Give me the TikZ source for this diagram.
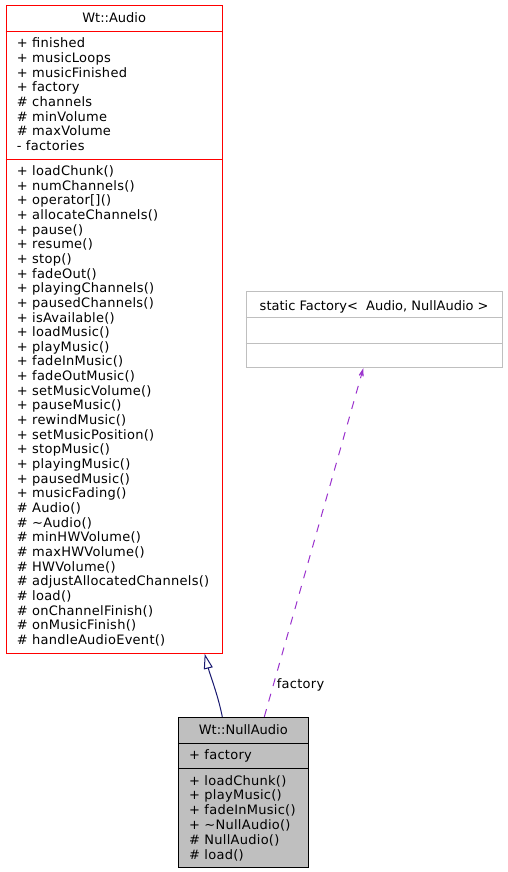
\documentclass[tikz,border=0pt]{standalone}
\usepackage{fontspec}
\setmainfont{DejaVu Sans}
\newfontfamily\memfont[LetterSpace=2]{DejaVu Sans}
\usetikzlibrary{arrows.meta}
\definecolor{navyline}{HTML}{191970}
\definecolor{orchid}{HTML}{9A32CD}
\definecolor{boxgrey}{HTML}{BFBFBF}
\definecolor{lightborder}{HTML}{BFBFBF}
\tikzset{
  classbox/.style={draw, line width=1pt, rectangle, inner sep=0pt},
  member/.style={anchor=base west, inner sep=0pt, font=\memfont\fontsize{13}{15}\selectfont},
  ctitle/.style={anchor=base, inner sep=0pt, font=\fontsize{13}{15}\selectfont},
}
\begin{document}
\begin{tikzpicture}[x=1pt,y=-1pt]
\useasboundingbox (0,0) rectangle (507,872);
% Wt::Audio
\node[classbox, draw=red, minimum width=216.3pt, minimum height=648pt] (audio) at (114.15,329.3) {};
\draw[red, line width=1pt] (audio.west |- 0,31.7) -- (audio.east |- 0,31.7);
\draw[red, line width=1pt] (audio.west |- 0,159.3) -- (audio.east |- 0,159.3);
\node[ctitle] (audiot) at (114.15,22.7) {Wt::Audio};
\foreach \t [count=\i from 0] in {+ finished, + musicLoops, + musicFinished, + factory, \# channels, \# minVolume, \# maxVolume, - factories}
  \node[member] (aa\i) at (16.7,47.7+14.71*\i) {\t};
\foreach \t [count=\i from 0] in {+ loadChunk(), + numChannels(), + operator[](), + allocateChannels(), + pause(), + resume(), + stop(), + fadeOut(), + playingChannels(), + pausedChannels(), + isAvailable(), + loadMusic(), + playMusic(), + fadeInMusic(), + fadeOutMusic(), + setMusicVolume(), + pauseMusic(), + rewindMusic(), + setMusicPosition(), + stopMusic(), + playingMusic(), + pausedMusic(), + musicFading(), \# Audio(), \# \textasciitilde Audio(), \# minHWVolume(), \# maxHWVolume(), \# HWVolume(), \# adjustAllocatedChannels(), \# load(), \# onChannelFinish(), \# onMusicFinish(), \# handleAudioEvent()}
  \node[member] (am\i) at (16.7,175.5+14.65*\i) {\t};
% Factory
\node[classbox, draw=lightborder, minimum width=256.3pt, minimum height=76.7pt] (fac) at (374.15,329.35) {};
\draw[lightborder, line width=1pt] (fac.west |- 0,317.3) -- (fac.east |- 0,317.3);
\draw[lightborder, line width=1pt] (fac.west |- 0,343.3) -- (fac.east |- 0,343.3);
\node[ctitle] (fact) at (374.15,310) {static Factory<\ \ Audio, NullAudio >};
% Wt::NullAudio
\node[classbox, draw=black, fill=boxgrey, minimum width=130pt, minimum height=150pt] (na) at (243.3,792.3) {};
\draw[black, line width=1pt] (na.west |- 0,743.3) -- (na.east |- 0,743.3);
\draw[black, line width=1pt] (na.west |- 0,768.3) -- (na.east |- 0,768.3);
\node[ctitle] (nat) at (243.3,734.3) {Wt::NullAudio};
\node[member] (naa0) at (189,759.3) {+ factory};
\foreach \t [count=\i from 0] in {+ loadChunk(), + playMusic(), + fadeInMusic(), + \textasciitilde NullAudio(), \# NullAudio(), \# load()}
  \node[member] (nam\i) at (189,785+14.8*\i) {\t};
% inheritance
\draw[navyline, line width=1pt, -{Triangle[open, length=15pt, width=9pt]}]
  ([xshift=-21pt]na.north) .. controls (218,695) and (210,675) .. ([xshift=90.55pt]audio.south);
% usage
\draw[orchid, line width=1pt, dash pattern=on 8pt off 8pt, -{Stealth[length=14pt, width=9pt, inset=9pt]}]
  ([xshift=21pt]na.north) -- ([xshift=-10.85pt]fac.south);
\node[member] (lbl) at (276.7,688.3) {factory};
\end{tikzpicture}
\end{document}
